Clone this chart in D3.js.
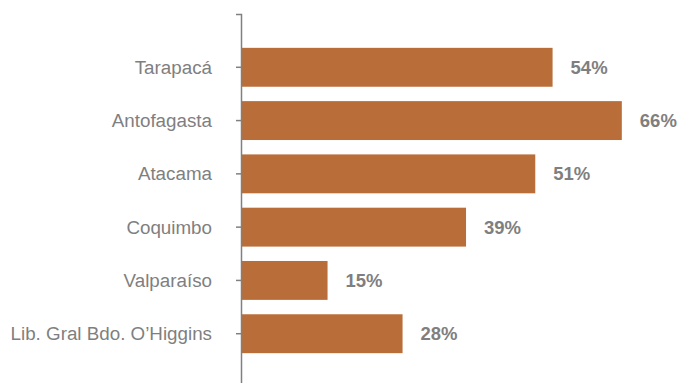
<!DOCTYPE html>
<html>
<head>
<meta charset="utf-8">
<script src="https://cdn.jsdelivr.net/npm/d3@7"></script>
<style>
  body { margin: 0; background: #fff; }
  svg { display: block; }
  .cat text { font-family: "Liberation Sans", Arial, sans-serif; font-size: 18.8px; fill: #7f7f7f; }
  .val { font-family: "Liberation Sans", Arial, sans-serif; font-size: 18.5px; font-weight: bold; fill: #7f7f7f; }
</style>
</head>
<body>
<svg class="canvas" width="680" height="383"></svg>
<script>
var regions = ["Tarapacá", "Antofagasta", "Atacama", "Coquimbo", "Valparaíso", "Lib. Gral Bdo. O’Higgins"];
var shares = [0.54, 0.66, 0.51, 0.39, 0.15, 0.28];
var width = 680, height = 383;

var svg = d3.select(".canvas");

var x = d3.scaleLinear().domain([0, 1]).range([241, 818]);
var y = d3.scaleBand().domain(regions).range([14, 387])
	.paddingInner(0.27).paddingOuter(0.635);

// bars
svg.selectAll("rect.bar").data(regions).enter().append("rect")
	.attr("class", "bar")
	.attr("x", x(0))
	.attr("y", function(d){ return y(d); })
	.attr("width", function(d, i){ return x(shares[i]) - x(0); })
	.attr("height", y.bandwidth())
	.attr("fill", "#b96e39");

// value labels
svg.selectAll("text.val").data(regions).enter().append("text")
	.attr("class", "val")
	.attr("x", function(d, i){ return x(shares[i]) + 18; })
	.attr("y", function(d){ return y(d) + y.bandwidth() / 2 + 6.5; })
	.text(function(d, i){ return Math.round(shares[i] * 100) + "%"; });

// category axis
var axis = svg.append("g")
	.attr("class", "cat")
	.attr("transform", "translate(" + x(0) + ",0)")
	.call(d3.axisLeft(y).tickSizeInner(5).tickSizeOuter(5).tickPadding(24));
axis.select(".domain").attr("stroke", "#808080").attr("stroke-width", 1.5);
axis.selectAll(".tick line").attr("stroke", "#808080").attr("stroke-width", 1.5);
axis.selectAll(".tick text").attr("dy", "0.35em");
</script>
</body>
</html>
